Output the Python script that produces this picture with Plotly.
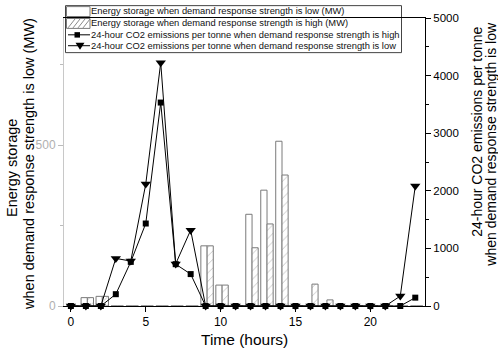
import plotly.graph_objects as go

# ---------------- data ----------------
hours = list(range(24))
storage_low = [0, 26, 30, 0, 0, 0, 0, 0, 0, 187, 65, 0, 285, 360, 512, 0, 0, 0, 0, 0, 0, 0, 0, 0]
storage_high = [0, 26, 30, 0, 0, 0, 0, 0, 0, 187, 65, 0, 181, 255, 407, 0, 68, 19, 0, 0, 0, 0, 0, 0]
co2_high = [0, 0, 0, 205, 766, 1432, 3532, 726, 554, 0, 0, 0, 0, 0, 0, 0, 0, 0, 0, 0, 0, 0, 0, 145]
co2_low = [0, 0, 0, 826, 780, 2117, 4225, 731, 1317, 0, 0, 0, 0, 0, 0, 0, 0, 0, 0, 0, 0, 0, 172, 2083]

x_ticks = [0, 5, 10, 15, 20]
left_ticks = [0, 500]
right_ticks = [0, 1000, 2000, 3000, 4000, 5000]

legend_labels = [
    "Energy storage when demand response strength is low (MW)",
    "Energy storage when demand response strength is high (MW)",
    "24-hour CO2 emissions per tonne when demand response strength is high",
    "24-hour CO2 emissions per tonne when demand response strength is low",
]

FONT = "Liberation Sans, Arial, sans-serif"
W, H = 498, 353
L, R, T, B = 64, 73, 15, 47
PW, PH = W - L - R, H - T - B


def xp(px):
    return (px - L) / PW


def yp(py):
    return (H - B - py) / PH


fig = go.Figure()

fig.add_trace(go.Bar(
    x=hours, y=storage_low, name=legend_labels[0], yaxis="y",
    width=0.42, offset=-0.32,
    marker=dict(color="white", line=dict(color="#7a7a7a", width=1)),
    showlegend=False,
))
fig.add_trace(go.Bar(
    x=hours, y=storage_high, name=legend_labels[1], yaxis="y",
    width=0.41, offset=0.10,
    marker=dict(color="white", line=dict(color="#7a7a7a", width=1),
                pattern=dict(shape="/", fgcolor="#8a8a8a", bgcolor="white", size=6, solidity=0.15)),
    showlegend=False,
))
fig.add_trace(go.Scatter(
    x=hours, y=co2_high, name=legend_labels[2], yaxis="y2", mode="lines+markers",
    line=dict(color="black", width=1),
    marker=dict(symbol="square", size=6, color="black"),
    cliponaxis=False, showlegend=False,
))
fig.add_trace(go.Scatter(
    x=hours, y=co2_low, name=legend_labels[3], yaxis="y2", mode="lines+markers",
    line=dict(color="black", width=1),
    marker=dict(symbol="triangle-down", size=9, color="black"),
    cliponaxis=False, showlegend=False,
))

# ---------------- manual legend ----------------
shapes = []
annotations = []
shapes.append(dict(type="rect", xref="paper", yref="paper", layer="below",
                   x0=xp(65.5), x1=xp(401.5), y0=yp(50), y1=yp(2.5),
                   line=dict(color="#444", width=1), fillcolor="white"))
# row 1 symbol: empty box
shapes.append(dict(type="rect", xref="paper", yref="paper", layer="below",
                   x0=xp(66.5), x1=xp(90), y0=yp(13.5), y1=yp(3.5),
                   line=dict(color="#7a7a7a", width=1), fillcolor="white"))
# row 2 symbol: hatched box
shapes.append(dict(type="rect", xref="paper", yref="paper", layer="below",
                   x0=xp(66.5), x1=xp(90), y0=yp(25.5), y1=yp(15.5),
                   line=dict(color="#7a7a7a", width=1), fillcolor="white"))
for sx in [68, 73, 78, 83]:
    shapes.append(dict(type="line", xref="paper", yref="paper", layer="below",
                       x0=xp(sx), y0=yp(25), x1=xp(sx + 7), y1=yp(16),
                       line=dict(color="#8a8a8a", width=1)))
# row 3 symbol: line + square
shapes.append(dict(type="line", xref="paper", yref="paper",
                   x0=xp(68), x1=xp(90), y0=yp(32), y1=yp(32),
                   line=dict(color="black", width=1)))
shapes.append(dict(type="rect", xref="paper", yref="paper",
                   x0=xp(74.5), x1=xp(80), y0=yp(34.8), y1=yp(29.3),
                   line=dict(color="black", width=0), fillcolor="black"))
# row 4 symbol: line + triangle down
shapes.append(dict(type="line", xref="paper", yref="paper",
                   x0=xp(68), x1=xp(90), y0=yp(43), y1=yp(43),
                   line=dict(color="black", width=1)))
shapes.append(dict(type="path", xref="paper", yref="paper",
                   path=f"M {xp(75.5)} {yp(40)} L {xp(84.5)} {yp(40)} L {xp(80)} {yp(47)} Z",
                   line=dict(color="black", width=0), fillcolor="black"))

for label, cy in zip(legend_labels, [8.3, 20.3, 32, 43]):
    annotations.append(dict(text=label, xref="paper", yref="paper",
                            x=xp(90), y=yp(cy), xanchor="left", yanchor="middle",
                            showarrow=False, borderpad=0,
                            font=dict(family=FONT, size=9.35, color="#111")))

# ---------------- axis titles ----------------
annotations.append(dict(text="Energy storage", xref="paper", yref="paper",
                        x=xp(12.5), y=yp(167), xanchor="center", yanchor="middle",
                        textangle=-90, showarrow=False,
                        font=dict(family=FONT, size=14.5, color="black")))
annotations.append(dict(text="when demand response strength is low (MW)", xref="paper", yref="paper",
                        x=xp(29.5), y=yp(163), xanchor="center", yanchor="middle",
                        textangle=-90, showarrow=False,
                        font=dict(family=FONT, size=14.5, color="black")))
annotations.append(dict(text="24-hour CO2 emissions per tonne", xref="paper", yref="paper",
                        x=xp(477), y=yp(130), xanchor="center", yanchor="middle",
                        textangle=-90, showarrow=False,
                        font=dict(family=FONT, size=14, color="black")))
annotations.append(dict(text="when demand response strength is low", xref="paper", yref="paper",
                        x=xp(491), y=yp(143), xanchor="center", yanchor="middle",
                        textangle=-90, showarrow=False,
                        font=dict(family=FONT, size=14, color="black")))
annotations.append(dict(text="Time (hours)", xref="paper", yref="paper",
                        x=xp(244), y=yp(340), xanchor="center", yanchor="middle",
                        showarrow=False,
                        font=dict(family=FONT, size=15.5, color="black")))

fig.update_layout(
    width=W, height=H,
    margin=dict(l=L, r=R, t=T, b=B, pad=0),
    paper_bgcolor="white", plot_bgcolor="white",
    barmode="overlay",
    showlegend=False,
    font=dict(family=FONT, color="black"),
    shapes=shapes,
    annotations=annotations,
    xaxis=dict(
        range=[-0.46, 23.65], tickmode="array", tickvals=x_ticks,
        ticks="outside", ticklen=5, tickcolor="black",
        showline=True, linecolor="black", linewidth=1, mirror=True,
        showgrid=False, zeroline=False,
        tickfont=dict(family=FONT, size=12, color="black"),
    ),
    yaxis=dict(
        range=[0, 895], tickmode="array", tickvals=left_ticks,
        ticks="outside", ticklen=5, tickcolor="#bbbbbb",
        minor=dict(tickmode="array", tickvals=[250, 750], ticks="outside", ticklen=3, tickcolor="#bbbbbb"),
        showline=True, linecolor="#c8c8c8", linewidth=1,
        showgrid=False, zeroline=False,
        tickfont=dict(family=FONT, size=12, color="#b0b0b0"),
    ),
    yaxis2=dict(
        range=[0, 5000], overlaying="y", side="right", anchor="x",
        tickmode="array", tickvals=right_ticks,
        ticks="outside", ticklen=5, tickcolor="black",
        minor=dict(tickmode="array", tickvals=[500, 1500, 2500, 3500, 4500], ticks="outside", ticklen=3, tickcolor="black"),
        showline=True, linecolor="black", linewidth=1,
        showgrid=False, zeroline=False,
        tickfont=dict(family=FONT, size=11.5, color="black"),
    ),
)

fig.write_html(
    "out.html",
    config={"displayModeBar": False},
    post_script="document.body.style.margin='0';document.body.style.overflow='hidden';",
)
